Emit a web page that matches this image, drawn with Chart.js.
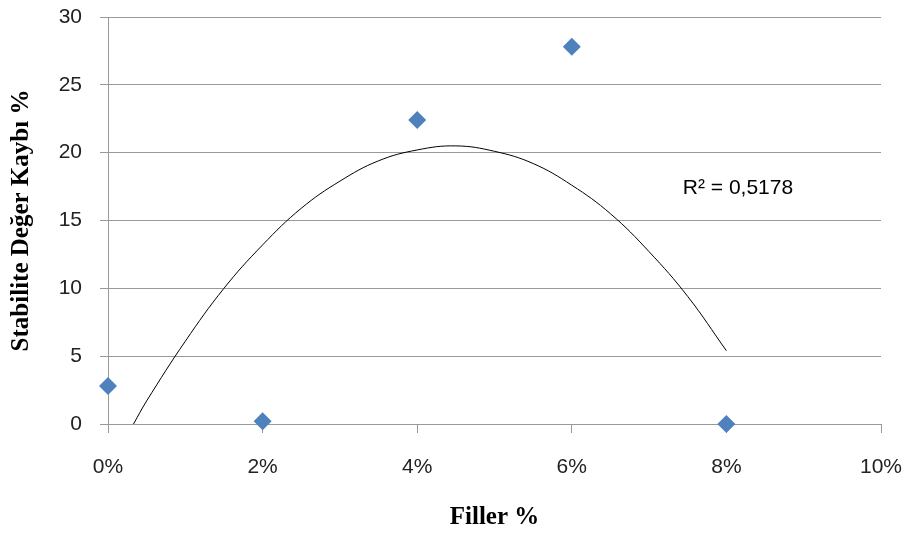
<!DOCTYPE html>
<html>
<head>
<meta charset="utf-8">
<script src="https://cdn.jsdelivr.net/npm/chart.js@4/dist/chart.umd.min.js"></script>
<style>
html,body{margin:0;padding:0;background:#fff;}
#wrap{width:909px;height:534px;}
</style>
</head>
<body>
<div id="wrap"><canvas id="c" width="909" height="534"></canvas></div>
<script>
// Observed data (Filler %, Stabilite Değer Kaybı %)
const fillerPct = [0, 2, 4, 6, 8];
const stabilityLoss = [2.8, 0.2, 22.4, 27.8, 0.0];
// Polynomial trendline
const trendX = [0.33, 0.5, 1, 1.5, 2, 2.5, 3, 3.5, 4, 4.5, 5, 5.5, 6, 6.5, 7, 7.5, 8];
const trendY = [0.0, 1.7, 6.1, 10.0, 13.2, 15.9, 17.9, 19.4, 20.2, 20.5, 20.1, 19.2, 17.6, 15.5, 12.7, 9.4, 5.4];
const xTicks = [0, 2, 4, 6, 8, 10];
const yTicks = [0, 5, 10, 15, 20, 25, 30];
const r2Label = 'R² = 0,5178';
const xTitle = 'Filler %';
const yTitle = 'Stabilite Değer Kaybı %';

const r2Plugin = {
  id: 'r2',
  afterDatasetsDraw(chart) {
    const {ctx, scales} = chart;
    ctx.save();
    ctx.font = '21px "Liberation Sans", Arial, sans-serif';
    ctx.fillStyle = '#000';
    ctx.textAlign = 'center';
    ctx.textBaseline = 'middle';
    ctx.fillText(r2Label, scales.x.getPixelForValue(8.15), scales.y.getPixelForValue(17.4));
    ctx.restore();
  }
};

new Chart(document.getElementById('c'), {
  type: 'scatter',
  data: {
    datasets: [
      {
        label: 'trend',
        data: trendX.map((x, i) => ({x, y: trendY[i]})),
        showLine: true,
        borderColor: '#000',
        borderWidth: 1,
        pointRadius: 0,
        tension: 0.4,
        fill: false,
        order: 2
      },
      {
        label: 'data',
        data: fillerPct.map((x, i) => ({x, y: stabilityLoss[i]})),
        pointStyle: 'rectRot',
        pointRadius: 9,
        backgroundColor: '#4F81BD',
        borderColor: '#4F81BD',
        borderWidth: 0,
        order: 1,
        clip: false
      }
    ]
  },
  options: {
    responsive: false,
    animation: false,
    layout: {padding: {top: 17, right: 28, left: 0, bottom: 0}},
    plugins: {legend: {display: false}, tooltip: {enabled: false}},
    scales: {
      x: {
        type: 'linear', min: 0, max: 10,
        afterBuildTicks(s) { s.ticks = xTicks.map(v => ({value: v})); },
        afterFit(s) { s.height = 110; s.paddingLeft = 0; s.paddingRight = 0; },
        grid: {display: true, drawOnChartArea: false, drawTicks: true, tickLength: 9, color: '#999', lineWidth: 1},
        border: {display: true, color: '#999'},
        ticks: {
          callback: v => v + '%',
          font: {family: '"Liberation Sans", Arial, sans-serif', size: 21},
          color: '#222', padding: 22, maxRotation: 0
        },
        title: {
          display: true, text: xTitle,
          font: {family: '"Liberation Serif", "Times New Roman", serif', size: 25, weight: 'bold'},
          color: '#000', padding: {top: 0, bottom: 1}
        }
      },
      y: {
        type: 'linear', min: 0, max: 30,
        afterBuildTicks(s) { s.ticks = yTicks.map(v => ({value: v})); },
        afterFit(s) { s.width = 108; s.paddingTop = 0; s.paddingBottom = 0; },
        grid: {display: true, drawTicks: true, tickLength: 8, color: '#999', lineWidth: 1},
        border: {display: true, color: '#999'},
        ticks: {
          font: {family: '"Liberation Sans", Arial, sans-serif', size: 21},
          color: '#222', padding: 18
        },
        title: {
          display: true, text: yTitle,
          font: {family: '"Liberation Serif", "Times New Roman", serif', size: 25, weight: 'bold'},
          color: '#000', padding: {top: 7, bottom: 0}
        }
      }
    }
  },
  plugins: [r2Plugin]
});
</script>
</body>
</html>
